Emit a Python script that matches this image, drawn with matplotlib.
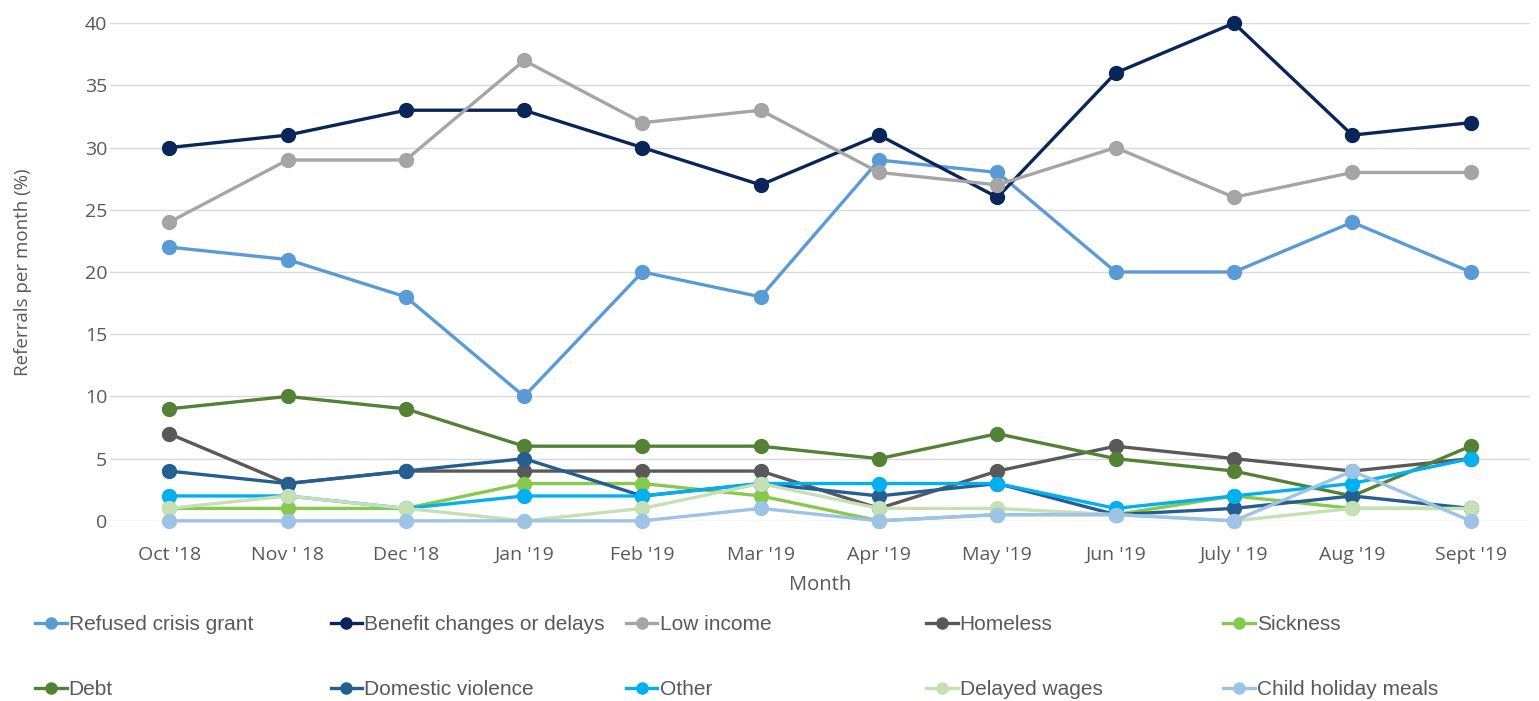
import matplotlib.pyplot as plt

plt.rcParams['font.family'] = ['Open Sans', 'DejaVu Sans']

months = ["Oct '18", "Nov ' 18", "Dec '18", "Jan '19", "Feb '19", "Mar '19",
          "Apr '19", "May '19", "Jun '19", "July ' 19", "Aug '19", "Sept '19"]

refused_crisis_grant = [22, 21, 18, 10, 20, 18, 29, 28, 20, 20, 24, 20]
benefit_changes = [30, 31, 33, 33, 30, 27, 31, 26, 36, 40, 31, 32]
low_income = [24, 29, 29, 37, 32, 33, 28, 27, 30, 26, 28, 28]
homeless = [7, 3, 4, 4, 4, 4, 1, 4, 6, 5, 4, 5]
sickness = [1, 1, 1, 3, 3, 2, 0, 0.5, 0.5, 2, 1, 1]
debt = [9, 10, 9, 6, 6, 6, 5, 7, 5, 4, 2, 6]
domestic_violence = [4, 3, 4, 5, 2, 3, 2, 3, 0.5, 1, 2, 1]
other = [2, 2, 1, 2, 2, 3, 3, 3, 1, 2, 3, 5]
delayed_wages = [1, 2, 1, 0, 1, 3, 1, 1, 0.5, 0, 1, 1]
child_holiday_meals = [0, 0, 0, 0, 0, 1, 0, 0.5, 0.5, 0, 4, 0]

series = [
    ("Refused crisis grant", refused_crisis_grant, "#5B9BD5"),
    ("Benefit changes or delays", benefit_changes, "#0A2559"),
    ("Low income", low_income, "#A5A5A5"),
    ("Homeless", homeless, "#595959"),
    ("Sickness", sickness, "#86C94B"),
    ("Debt", debt, "#548235"),
    ("Domestic violence", domestic_violence, "#255E91"),
    ("Other", other, "#00B0F0"),
    ("Delayed wages", delayed_wages, "#C5E0B4"),
    ("Child holiday meals", child_holiday_meals, "#9DC3E6"),
]

fig = plt.figure(figsize=(15.39, 7.01), dpi=100)
ax = fig.add_axes([0.0715, 0.257, 0.9225, 0.71])

x = list(range(len(months)))
handles = []
for name, vals, col in series:
    h, = ax.plot(x, vals, color=col, lw=2.4, marker='o', markersize=10,
                 label=name, clip_on=False)
    handles.append(h)

ax.set_xlim(-0.5, 11.5)
ax.set_ylim(0, 40)
ax.set_yticks(range(0, 41, 5))
ax.set_xticks(x)
ax.set_xticklabels(months)
ax.yaxis.grid(True, color='#D9D9D9', lw=1)
ax.set_axisbelow(True)
for s in ax.spines.values():
    s.set_visible(False)
ax.tick_params(axis='y', length=0, labelsize=14, colors='#595959', pad=2)
ax.tick_params(axis='x', length=0, labelsize=14, colors='#595959', pad=18)
ax.set_xlabel("Month", fontsize=14.5, color='#595959', labelpad=8)
ax.set_ylabel("Referrals per month (%)", fontsize=13.5, color='#595959')
ax.yaxis.set_label_coords(-0.055, 0.5)

# legend: 5 columns x 2 rows with equal column widths
col_x = [0.0175, 0.2095, 0.4015, 0.5965, 0.7895]
for i, cx in enumerate(col_x):
    leg = fig.legend(handles=[handles[i], handles[i + 5]], loc='upper left',
                     bbox_to_anchor=(cx, 0.134),  frameon=False,
                     prop={'family': ['Liberation Sans', 'DejaVu Sans'], 'size': 15},
                     handlelength=1.5, handletextpad=0.1, labelspacing=2.2,
                     borderaxespad=0, markerscale=0.8)
    for t in leg.get_texts():
        t.set_color('#595959')

fig.savefig('out.png', dpi=100)
